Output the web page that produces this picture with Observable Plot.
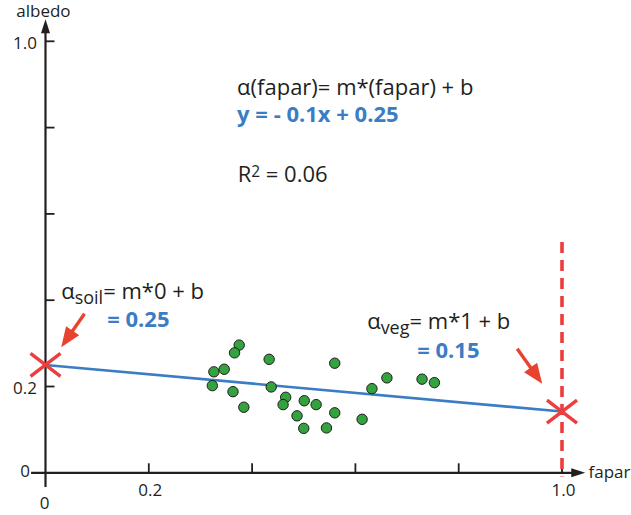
<!DOCTYPE html>
<html><head><meta charset="utf-8">
<script src="https://cdn.jsdelivr.net/npm/d3@7"></script>
<script src="https://cdn.jsdelivr.net/npm/@observablehq/plot@0.6"></script>
<style>html,body{margin:0;padding:0;background:#fff}svg{display:block}</style>
</head><body><div id="chart"></div>
<script>
// ---- data ----
const fapar  = [0.375,0.366,0.433,0.560,0.326,0.346,0.323,0.363,0.384,0.437,0.465,0.460,0.501,0.524,0.487,0.500,0.544,0.560,0.613,0.632,0.661,0.729,0.753];
const albedo = [0.296,0.278,0.263,0.254,0.234,0.240,0.202,0.188,0.152,0.199,0.175,0.158,0.167,0.158,0.132,0.103,0.104,0.139,0.124,0.195,0.220,0.217,0.209];
const fitX = [0, 1];
const fitY = [0.25, 0.142];
const xTicks = [0.2, 0.4, 0.6, 0.8, 1.0];
const yTicks = [0.2, 0.4, 0.6, 0.8, 1.0];
const xTickLabelValues = [0.2, 1.0];
const xTickLabels = ["0.2", "1.0"];
const yTickLabelValues = [0.2, 1.0];
const yTickLabels = ["0.2", "1.0"];
const zeroLabel = "0";
const xTitle = "fapar";
const yTitle = "albedo";

// annotations: text parts (sub / sup)
const annotations = [
  {x: 0.371, y: 0.8744, color: "#231f20", bold: false, parts: [{t: "α(fapar)= m*(fapar) + b"}]},
  {x: 0.371, y: 0.8125, color: "#3b7dc4", bold: true,  parts: [{t: "y = - 0.1x + 0.25"}]},
  {x: 0.372, y: 0.6735, color: "#231f20", bold: false, parts: [{t: "R"}, {t: "2", sup: true}, {t: " = 0.06"}]},
  {x: 0.0304, y: 0.4039, color: "#231f20", bold: false, parts: [{t: "α"}, {t: "soil", sub: true}, {t: "= m*0 + b"}]},
  {x: 0.1195, y: 0.3374, color: "#3b7dc4", bold: true,  parts: [{t: "= 0.25"}]},
  {x: 0.6228, y: 0.3337, color: "#231f20", bold: false, parts: [{t: "α"}, {t: "veg", sub: true}, {t: "= m*1 + b"}]},
  {x: 0.7197, y: 0.2665, color: "#3b7dc4", bold: true,  parts: [{t: "= 0.15"}]}
];
const redArrows = [
  {x1: 0.0755, y1: 0.3685, x2: 0.0304, y2: 0.2911},
  {x1: 0.9133, y1: 0.2874, x2: 0.9617, y2: 0.2063}
];
const fitEnds = fitX.map((x, i) => ({x, y: fitY[i]}));
const dashTop = 0.534, dashBottom = -0.01;

// ---- layout ----
const W = 631, H = 515;
const mL = 45, mR = 69.5, mT = 40.8, mB = 42.7;
const pxX = W - mL - mR, pxY = H - mT - mB;
const ink = "#231f20", red = "#e8432e", redX = "#ec3e3e", green = "#34a23f";
const FONT = "'Open Sans', sans-serif";

const points = fapar.map((x, i) => ({x, y: albedo[i]}));
const fit = fitX.map((x, i) => ({x, y: fitY[i]}));

const head = (len, half) => ({draw(c) { c.moveTo(0, 0); c.lineTo(half, len); c.lineTo(-half, len); c.closePath(); }});
const cross = {draw(c) { c.moveTo(-15, -11.5); c.lineTo(15, 11.5); c.moveTo(-15, 11.5); c.lineTo(15, -11.5); }};
const hTick = {draw(c) { c.moveTo(0, 0); c.lineTo(9, 0); }};
const vTick = {draw(c) { c.moveTo(0, 0); c.lineTo(0, -9.5); }};

const arrowData = redArrows.map(a => {
  const dx = (a.x2 - a.x1) * pxX, dy = -(a.y2 - a.y1) * pxY;
  const L = Math.hypot(dx, dy);
  const k = 1 - 10 / L;
  return {...a, sx2: a.x1 + (a.x2 - a.x1) * k, sy2: a.y1 + (a.y2 - a.y1) * k,
          rot: Math.atan2(dx, -dy) * 180 / Math.PI};
});
const joined = d => d.parts.map(p => p.t).join("");

const chart = Plot.plot({
  width: W, height: H,
  marginLeft: mL, marginRight: mR, marginTop: mT, marginBottom: mB,
  x: {domain: [0, 1], axis: null},
  y: {domain: [0, 1], axis: null},
  style: {fontFamily: FONT, background: "#fff", overflow: "visible"},
  marks: [
    // axes
    Plot.ruleY([0], {x1: -0.027, x2: 1.022, stroke: ink, strokeWidth: 2.2}),
    Plot.ruleX([0], {y1: -0.034, y2: 1.018, stroke: ink, strokeWidth: 2.2}),
    Plot.dot([0], {x: 0, y: 1.051, symbol: head(14, 4.5), fill: ink, stroke: "none"}),
    Plot.dot([0], {x: 1.045, y: 0, symbol: head(14, 4.5), rotate: 90, fill: ink, stroke: "none"}),
    Plot.dot(yTicks, {x: 0, y: d => d, symbol: hTick, fill: "none", stroke: ink, strokeWidth: 1.8}),
    Plot.dot(xTicks, {x: d => d, y: 0, symbol: vTick, fill: "none", stroke: ink, strokeWidth: 1.8}),
    // tick labels
    Plot.text(yTickLabelValues, {x: 0, y: d => d, text: (d, i) => yTickLabels[i], textAnchor: "end", lineAnchor: "bottom", dx: -8.5, dy: 7.5, fontSize: 17, fill: ink}),
    Plot.text([0], {x: 0, y: 0, text: () => zeroLabel, textAnchor: "end", lineAnchor: "bottom", dx: -15.5, dy: 4.6, fontSize: 17, fill: ink}),
    Plot.text(xTickLabelValues, {x: d => d, y: 0, text: (d, i) => xTickLabels[i], textAnchor: "middle", lineAnchor: "bottom", dx: 1.5, dy: 23.2, fontSize: 17, fill: ink}),
    Plot.text([0], {x: 0, y: 0, text: () => zeroLabel, textAnchor: "middle", lineAnchor: "bottom", dx: -1, dy: 35.8, fontSize: 17, fill: ink}),
    Plot.text([0], {x: -0.004, y: 1.0559, text: () => yTitle, textAnchor: "middle", lineAnchor: "bottom", fontSize: 17, fill: ink}),
    Plot.text([0], {x: 1.0513, y: -0.0109, text: () => xTitle, textAnchor: "start", lineAnchor: "bottom", fontSize: 17, fill: ink}),
    // dashed line at fapar = 1
    Plot.ruleX([fitX[1]], {y1: dashTop, y2: dashBottom, stroke: redX, strokeWidth: 3.6, strokeDasharray: "11,7"}),
    // regression line
    Plot.line(fit, {x: "x", y: "y", stroke: "#3b7dc4", strokeWidth: 2.6}),
    // data points
    Plot.dot(points, {x: "x", y: "y", r: 5.2, fill: green, stroke: "#1d1d1b", strokeWidth: 1}),
    // end markers
    Plot.dot(fitEnds, {x: "x", y: "y", symbol: cross, fill: "none", stroke: redX, strokeWidth: 3.4}),
    // red arrows
    Plot.link(arrowData, {x1: "x1", y1: "y1", x2: "sx2", y2: "sy2", stroke: red, strokeWidth: 3.4}),
    Plot.dot(arrowData, {x: "x2", y: "y2", rotate: "rot", symbol: head(20, 8), fill: red, stroke: "none"}),
    // annotations
    Plot.text(annotations, {x: "x", y: "y", text: joined, textAnchor: "start", lineAnchor: "bottom",
      fontSize: 22, fill: d => d.color})
  ]
});

// rebuild texts that contain sub/superscripts as tspans
const svg = d3.select(chart);
annotations.filter(a => a.parts.length > 1).forEach(a => {
  const full = joined(a);
  svg.selectAll("text").filter(function () { return this.textContent === full; }).each(function () {
    const t = d3.select(this);
    t.text(null);
    let shift = 0;
    a.parts.forEach(p => {
      const target = p.sub ? 5.5 : p.sup ? -5.5 : 0;
      const ts = t.append("tspan").text(p.t).attr("dy", target - shift);
      if (p.sub) ts.attr("font-size", 18);
      if (p.sup) ts.attr("font-size", 15.5);
      shift = target;
    });
  });
});
// bold for the blue result lines
svg.selectAll("text").each(function () {
  const txt = this.textContent;
  const a = annotations.find(x => joined(x) === txt);
  if (a && a.bold) d3.select(this).attr("font-weight", "bold");
});
document.getElementById("chart").appendChild(chart);
</script>
</body></html>
